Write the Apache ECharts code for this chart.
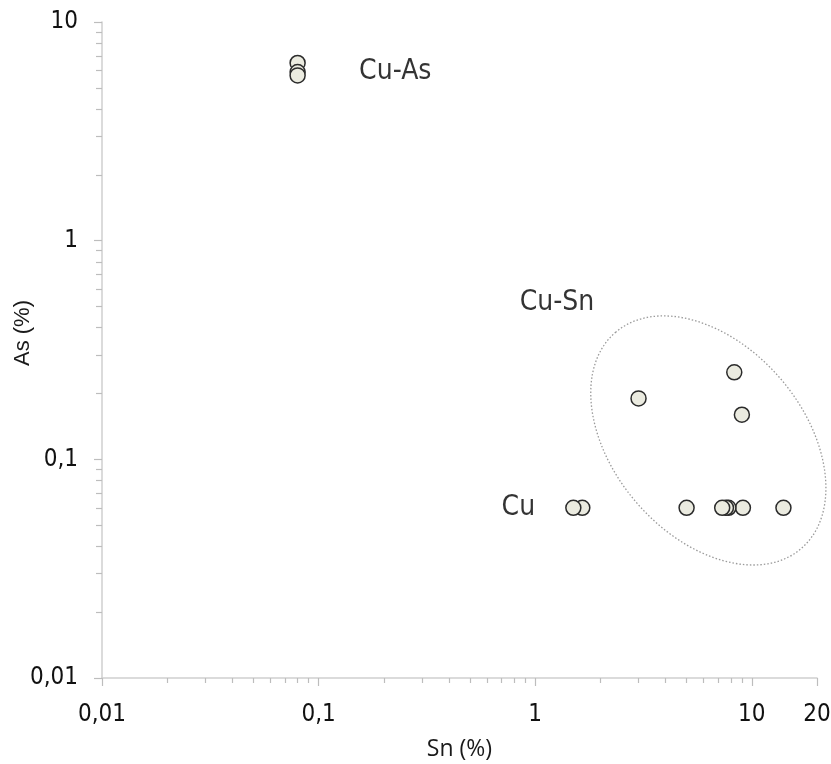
<!DOCTYPE html>
<html><head><meta charset="utf-8">
<script src="https://cdn.jsdelivr.net/npm/echarts@6/dist/echarts.min.js"></script>
<style>html,body{margin:0;padding:0;background:#fff}#c{width:831px;height:764px}</style>
</head><body><div id="c"></div><script>
// ---- axis ticks ----
const xTickValues = [0.01, 0.1, 1, 10, 20];
const xTickLabels = ['0,01', '0,1', '1', '10', '20'];
const yTickValues = [0.01, 0.1, 1, 10];
const yTickLabels = ['0,01', '0,1', '1', '10'];
const xMinorTicks = [0.02,0.03,0.04,0.05,0.06,0.07,0.08,0.09,0.2,0.3,0.4,0.5,0.6,0.7,0.8,0.9,2,3,4,5,6,7,8,9];
const yMinorTicks = [0.02,0.03,0.04,0.05,0.06,0.07,0.08,0.09,0.2,0.3,0.4,0.5,0.6,0.7,0.8,0.9,2,3,4,5,6,7,8,9];
// ---- data (Sn %, As %) ----
const cuAsGroupSn = [0.08, 0.08, 0.08];
const cuAsGroupAs = [6.5, 5.9, 5.7];
const cuGroupSn = [1.65, 1.5];
const cuGroupAs = [0.06, 0.06];
const cuSnGroupSn = [3.0, 8.3, 9.0, 14.0, 9.1, 7.8, 7.6, 7.3, 5.0];
const cuSnGroupAs = [0.19, 0.25, 0.16, 0.06, 0.06, 0.06, 0.06, 0.06, 0.06];
// ---- group annotations (data coords) ----
const groupNames = ['Cu-As', 'Cu-Sn', 'Cu'];
const groupLabelSn = [0.226, 1.26, 0.836];
const groupLabelAs = [5.9, 0.52, 0.06];
const ellipseCenter = [6.3, 0.122];

const NARROW = '"Liberation Sans Narrow","DejaVu Sans Condensed","Arial Narrow",sans-serif';
function lab(vals, labs) {
  return v => { const i = vals.findIndex(t => Math.abs(t - v) / t < 1e-6); return i >= 0 ? labs[i] : ''; };
}
const zip = (a, b) => a.map((v, i) => [v, b[i]]);
const markerStyle = { color: '#ebebe0', borderColor: '#2b2b2b', borderWidth: 1.5, opacity: 1 };

const chart = echarts.init(document.getElementById('c'), null, { renderer: 'canvas' });
const opt = {
  animation: false,
  backgroundColor: '#fff',
  grid: { left: 102, right: 14, top: 22, bottom: 86, containLabel: false, outerBoundsMode: 'none' },
  xAxis: [{
    type: 'log', logBase: 10, min: 0.01, max: 20, position: 'bottom',
    name: 'Sn (%)', nameLocation: 'middle', nameGap: 60, nameMoveOverlap: false,
    nameTextStyle: { fontFamily: '"Open Sans",sans-serif', fontSize: 23, color: '#1a1a1a' },
    axisLine: { show: true, lineStyle: { color: '#cfcfcf', width: 1.5 } },
    axisTick: { show: true, length: 8, customValues: xTickValues, lineStyle: { color: '#bdbdbd', width: 1.2 } },
    axisLabel: { customValues: xTickValues, formatter: lab(xTickValues, xTickLabels), margin: 25,
      fontFamily: NARROW, fontSize: 24, color: '#111' },
    splitLine: { show: false }, minorTick: { show: false }
  }, {
    type: 'log', logBase: 10, min: 0.01, max: 20, position: 'bottom', offset: 0,
    axisLine: { show: false },
    axisTick: { show: true, length: 5, customValues: xMinorTicks, lineStyle: { color: '#bdbdbd', width: 1.2 } },
    axisLabel: { show: false }, splitLine: { show: false }
  }],
  yAxis: [{
    type: 'log', logBase: 10, min: 0.01, max: 10, position: 'left',
    name: 'As (%)', nameLocation: 'middle', nameGap: 68, nameRotate: 90, nameMoveOverlap: false,
    nameTextStyle: { fontFamily: '"Liberation Sans",Arial,sans-serif', fontSize: 22, color: '#1a1a1a', padding: [0, 0, 0, 34] },
    axisLine: { show: true, lineStyle: { color: '#cfcfcf', width: 1.5 } },
    axisTick: { show: true, length: 8, customValues: yTickValues, lineStyle: { color: '#bdbdbd', width: 1.2 } },
    axisLabel: { customValues: yTickValues, formatter: lab(yTickValues, yTickLabels), margin: 24,
      fontFamily: NARROW, fontSize: 24, color: '#111' },
    splitLine: { show: false }
  }, {
    type: 'log', logBase: 10, min: 0.01, max: 10, position: 'left', offset: 0,
    axisLine: { show: false },
    axisTick: { show: true, length: 6, customValues: yMinorTicks, lineStyle: { color: '#bdbdbd', width: 1.2 } },
    axisLabel: { show: false }, splitLine: { show: false }
  }],
  series: [
    { name: 'Cu-As', type: 'scatter', symbol: 'circle', symbolSize: 15, itemStyle: markerStyle, data: zip(cuAsGroupSn, cuAsGroupAs), z: 3 },
    { name: 'Cu', type: 'scatter', symbol: 'circle', symbolSize: 15, itemStyle: markerStyle, data: zip(cuGroupSn, cuGroupAs), z: 3 },
    { name: 'Cu-Sn', type: 'scatter', symbol: 'circle', symbolSize: 15, itemStyle: markerStyle, data: zip(cuSnGroupSn, cuSnGroupAs), z: 3 },
    { name: 'labels', type: 'scatter', symbolSize: 0, silent: true, z: 4,
      data: groupNames.map((n, i) => [groupLabelSn[i], groupLabelAs[i], n]),
      label: { show: true, position: 'inside', formatter: p => p.data[2], fontFamily: NARROW, fontSize: 28, color: '#000' } }
  ]
};
chart.setOption(opt);
const c = chart.convertToPixel({ xAxisIndex: 0, yAxisIndex: 0 }, ellipseCenter);
chart.setOption({ graphic: [{
  type: 'ellipse', x: c[0], y: c[1], rotation: -49.3 * Math.PI / 180, z: 1, silent: true,
  shape: { cx: 0, cy: 0, rx: 142.5, ry: 95 },
  style: { fill: 'none', stroke: '#9a9a9a', lineWidth: 1.3, lineDash: [1.5, 2] }
}] });
</script></body></html>
